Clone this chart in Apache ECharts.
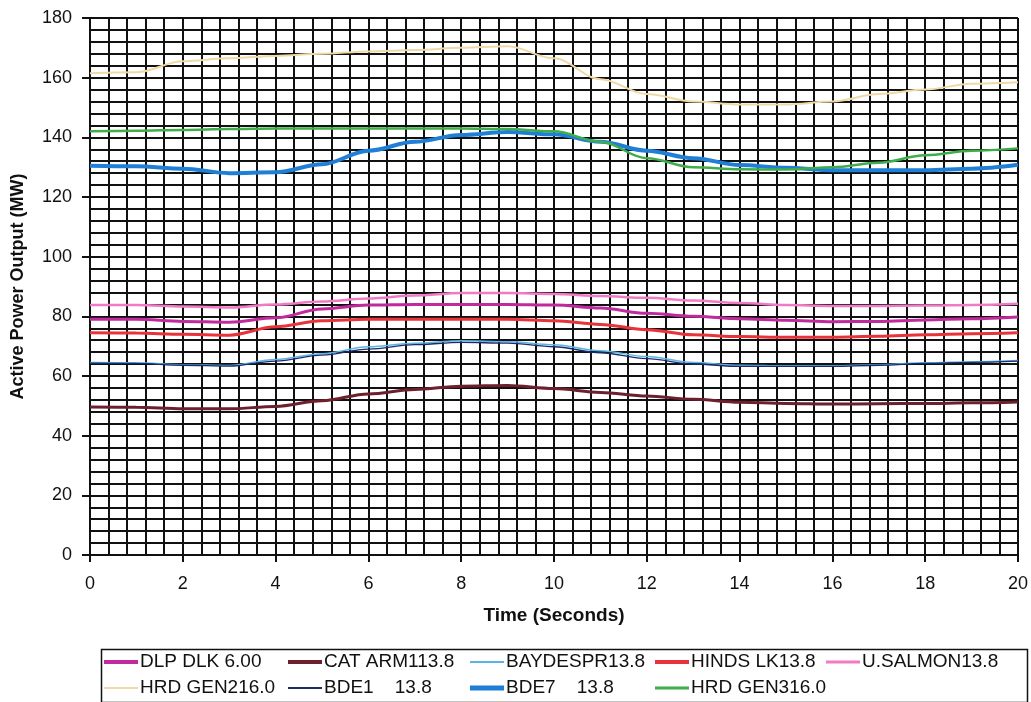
<!DOCTYPE html>
<html>
<head>
<meta charset="utf-8">
<script src="https://cdn.jsdelivr.net/npm/echarts@6/dist/echarts.min.js"></script>
<style>
html,body{margin:0;padding:0;background:#fff;}
#chart{width:1031px;height:702px;}
</style>
</head>
<body>
<div id="chart"></div>
<script>
const times = [0,1,2,3,4,5,6,7,8,9,10,11,12,13,14,15,16,17,18,19,20];
const dlpDlk   = [79,79,78.3,78,79.5,82.5,83.8,84,84,84,83.8,82.8,81,80,79.2,78.7,78.2,78.3,78.8,79.2,79.8];
const catArm   = [49.6,49.5,49,49,49.8,51.7,54,55.5,56.6,56.8,55.8,54.5,53.3,52.2,51.2,50.8,50.6,50.7,50.8,51,51.3];
const baydespr = [64.5,64.4,63.8,63.5,65.5,67.5,69.8,71,71.8,71.5,70.5,68.5,66.5,64.5,63.6,63.4,63.4,63.8,64.4,64.8,65.2];
const hindsLk  = [74.5,74.4,74,73.7,76.5,78.5,79,79,79,79,78.5,77.3,75.5,73.8,73.2,73,73,73.3,73.8,74.2,74.5];
const uSalmon  = [83.8,83.8,83.3,83,84,85,86,87,87.8,87.8,87.5,86.8,86.2,85.3,84.5,83.8,83.5,83.5,83.6,83.8,84.2];
const hrdGen2  = [161.5,161.8,165.5,166.5,167.3,168,168.8,169.3,170,170.5,166.5,159.5,154.5,152,151,151,152,154.5,156,158,158.5];
const bde1     = [64.3,64.2,63.6,63.3,65,67,69,70.5,71.3,71,69.8,67.8,65.8,64,63.2,63.2,63.2,63.6,64.2,64.6,65];
const bde7     = [130.5,130.3,129.5,128,128.3,131,135.5,138.5,140.8,141.8,141,138.5,135.5,133,130.7,129.8,129,129,129,129.5,130.8];
const hrdGen3  = [142,142.2,142.5,142.8,143,143,143,143,143,142.8,142,138.5,133,130,129.3,129.2,130,131.5,134,135.5,136.3];

const seriesNames = ['DLP DLK 6.00','CAT ARM113.8','BAYDESPR13.8','HINDS LK13.8','U.SALMON13.8','HRD GEN216.0','BDE1    13.8','BDE7    13.8','HRD GEN316.0'];
const seriesData = [dlpDlk, catArm, baydespr, hindsLk, uSalmon, hrdGen2, bde1, bde7, hrdGen3];
const colors = ['#c02a9c','#6e1f2e','#5ab4e6','#e8333a','#f27ac4','#f0d9a6','#1d2a6b','#1f7fd6','#3fae4a'];
const widths = [3,3,1.5,3,2.5,2,1.3,4,2.5];
const legendIconH = [4,4,2,4,3,2,2,5,3];
const legendPos = [[104,652],[288,652],[470,652],[655,652],[826,652],[104,678],[288,678],[470,678],[655,678]];

const FONT = "'Liberation Sans', Arial, sans-serif";
const chart = echarts.init(document.getElementById('chart'));

const series = seriesNames.map((n,i)=>({
  name: n,
  type: 'line',
  data: times.map((t,j)=>[t, seriesData[i][j]]),
  showSymbol: false,
  smooth: 0.35,
  smoothMonotone: 'x',
  lineStyle: {color: colors[i], width: widths[i]},
  itemStyle: {color: colors[i]},
  z: 3
}));

const legends = seriesNames.map((n,i)=>({
  data: [n],
  left: legendPos[i][0],
  top: legendPos[i][1],
  icon: 'rect',
  itemWidth: 34,
  itemHeight: legendIconH[i],
  itemGap: 0,
  padding: 0,
  selectedMode: false,
  textStyle: {fontFamily: FONT, fontSize: 19, color: '#111', lineHeight: 20, padding:[0,0,0,-3]}
}));

chart.setOption({
  animation: false,
  backgroundColor: '#fff',
  grid: {left: 90, right: 11, top: 18, bottom: 147},
  xAxis: {
    type: 'value', min: 0, max: 20, interval: 2,
    name: 'Time (Seconds)', nameLocation: 'middle', nameGap: 51,
    nameTextStyle: {fontFamily: FONT, fontSize: 19, fontWeight: 'bold', color: '#111'},
    axisLine: {show: true, lineStyle: {color: '#111', width: 2}},
    axisTick: {show: true, length: 7, lineStyle: {color: '#111', width: 2}},
    axisLabel: {fontFamily: FONT, fontSize: 18, color: '#111', margin: 20},
    splitLine: {show: true, lineStyle: {color: '#111', width: 2}},
    minorTick: {show: false, splitNumber: 5},
    minorSplitLine: {show: true, lineStyle: {color: '#111', width: 2}}
  },
  yAxis: {
    type: 'value', min: 0, max: 180, interval: 20,
    name: 'Active Power Output (MW)', nameLocation: 'middle', nameGap: 63, nameRotate: 90,
    nameTextStyle: {fontFamily: FONT, fontSize: 18, fontWeight: 'bold', color: '#111'},
    axisLine: {show: true, lineStyle: {color: '#111', width: 2}},
    axisTick: {show: true, length: 8, lineStyle: {color: '#111', width: 2}},
    axisLabel: {fontFamily: FONT, fontSize: 18, color: '#111', margin: 18},
    splitLine: {show: true, lineStyle: {color: '#111', width: 2}},
    minorTick: {show: false, splitNumber: 5},
    minorSplitLine: {show: true, lineStyle: {color: '#111', width: 2}}
  },
  legend: legends,
  graphic: [{
    type: 'rect', left: 99, top: 647,
    shape: {width: 926, height: 53},
    style: {fill: 'none', stroke: '#111', lineWidth: 1.5},
    silent: true
  }],
  series: series
});
</script>
</body>
</html>
